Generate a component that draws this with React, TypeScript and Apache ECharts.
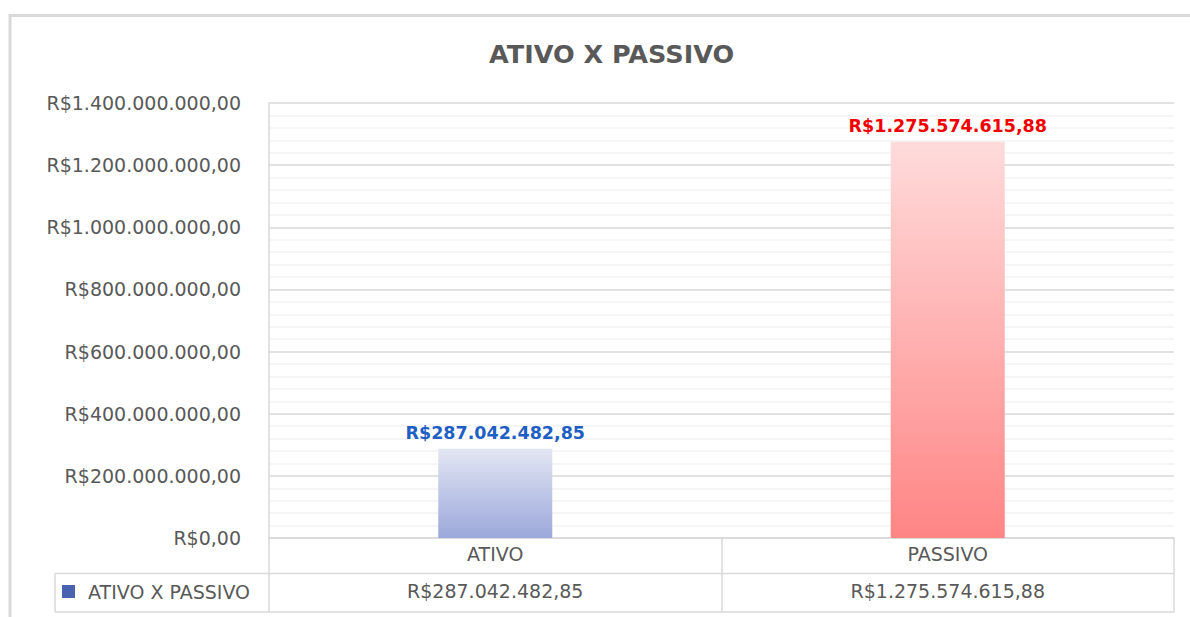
import React, { useEffect, useRef } from "react";
import * as echarts from "echarts";

const categories: string[] = ["ATIVO", "PASSIVO"];
const values: number[] = [287042482.85, 1275574615.88];
const seriesName = "ATIVO X PASSIVO";
const titleText = "ATIVO X PASSIVO";
const yMax = 1400000000;
const yInterval = 200000000;

const FONT = "DejaVu Sans";
const TXT = "#595959";
const GRID_MAJOR = "#d9d9d9";
const GRID_MINOR = "#f2f2f2";
const barGradients = [
  ["#e3e6f4", "#9ba8da"],
  ["#ffdbdb", "#ff8585"],
];
const labelColors = ["#1f5fc4", "#f00000"];
const legendColor = "#4a63b0";

function fmtBRL(v: number): string {
  const s = v.toFixed(2);
  const [i, d] = s.split(".");
  return "R$" + i.replace(/\B(?=(\d{3})+(?!\d))/g, ".") + "," + d;
}

export default function App() {
  const ref = useRef<HTMLDivElement>(null);
  useEffect(() => {
    if (!ref.current) return;
    const chart = echarts.init(ref.current, null, { renderer: "svg" });
    const gridLeft = 269;
    const gridRight = 1174;
    const gridTop = 103;
    const gridBottom = 538;
    const row2Top = 573.5;
    const tableBottom = 612;
    const lineStyle = { stroke: GRID_MAJOR, lineWidth: 1.5 };
    chart.setOption({
      animation: false,
      backgroundColor: "#ffffff",
      title: {
        text: titleText,
        left: 489,
        top: 39,
        padding: 0,
        textStyle: {
          fontFamily: FONT,
          fontSize: 25.5,
          fontWeight: "bold",
          color: TXT,
          lineHeight: 30,
        },
      },
      legend: {
        show: true,
        left: 62,
        top: 582,
        padding: 0,
        itemWidth: 13,
        itemHeight: 13,
        icon: "rect",
        data: [{ name: seriesName, itemStyle: { color: legendColor } }],
        textStyle: {
          fontFamily: FONT,
          fontSize: 19,
          color: TXT,
          padding: [0, 0, 0, 8],
        },
        selectedMode: false,
      },
      grid: {
        left: gridLeft,
        right: 1190 - gridRight,
        top: gridTop,
        bottom: 617 - gridBottom,
        containLabel: false,
      },
      xAxis: [
        {
          type: "category",
          data: categories,
          position: "bottom",
          axisLine: { show: true, lineStyle: { color: GRID_MAJOR, width: 1.5 } },
          axisTick: {
            show: true,
            length: tableBottom - gridBottom,
            lineStyle: { color: GRID_MAJOR, width: 1.5 },
          },
          axisLabel: {
            fontFamily: FONT,
            fontSize: 19,
            color: TXT,
            margin: 6,
          },
          splitLine: { show: false },
        },
        {
          type: "category",
          data: categories,
          position: "bottom",
          offset: row2Top - gridBottom,
          axisLine: { show: false },
          axisTick: { show: false },
          axisLabel: {
            fontFamily: FONT,
            fontSize: 19,
            color: TXT,
            margin: 8,
            formatter: (_v: string, idx: number) => fmtBRL(values[idx]),
          },
          splitLine: { show: false },
        },
      ],
      yAxis: {
        type: "value",
        min: 0,
        max: yMax,
        interval: yInterval,
        axisLine: { show: true, lineStyle: { color: GRID_MAJOR, width: 1.5 } },
        axisTick: { show: false },
        axisLabel: {
          fontFamily: FONT,
          fontSize: 19,
          color: TXT,
          margin: 28,
          formatter: (v: number) => fmtBRL(v),
        },
        splitLine: { show: true, lineStyle: { color: GRID_MAJOR, width: 1.5 } },
        minorTick: { show: false, splitNumber: 5 },
        minorSplitLine: { show: true, lineStyle: { color: GRID_MINOR, width: 1.5 } },
      },
      series: [
        {
          name: seriesName,
          type: "bar",
          xAxisIndex: 0,
          barWidth: 114,
          data: values.map((v, i) => ({
            value: v,
            itemStyle: {
              color: new echarts.graphic.LinearGradient(0, 0, 0, 1, [
                { offset: 0, color: barGradients[i][0] },
                { offset: 1, color: barGradients[i][1] },
              ]),
            },
            label: { color: labelColors[i] },
          })),
          label: {
            show: true,
            position: "top",
            distance: 7,
            fontFamily: FONT,
            fontSize: 17.5,
            fontWeight: "bold",
            formatter: (p: any) => fmtBRL(p.value),
          },
        },
      ],
      graphic: [
        {
          type: "rect",
          silent: true,
          shape: { x: 10, y: 15.5, width: 1200, height: 700 },
          style: { fill: "none", stroke: GRID_MAJOR, lineWidth: 3 },
        },
        {
          type: "line",
          silent: true,
          shape: { x1: 55, y1: row2Top, x2: gridRight, y2: row2Top },
          style: lineStyle,
        },
        {
          type: "line",
          silent: true,
          shape: { x1: 55, y1: tableBottom, x2: gridRight, y2: tableBottom },
          style: lineStyle,
        },
        {
          type: "line",
          silent: true,
          shape: { x1: 55, y1: row2Top, x2: 55, y2: tableBottom },
          style: lineStyle,
        },
      ],
    });
    return () => chart.dispose();
  }, []);
  return (
    <div
      ref={ref}
      style={{ position: "fixed", left: 0, top: 0, width: 1190, height: 617 }}
    />
  );
}
